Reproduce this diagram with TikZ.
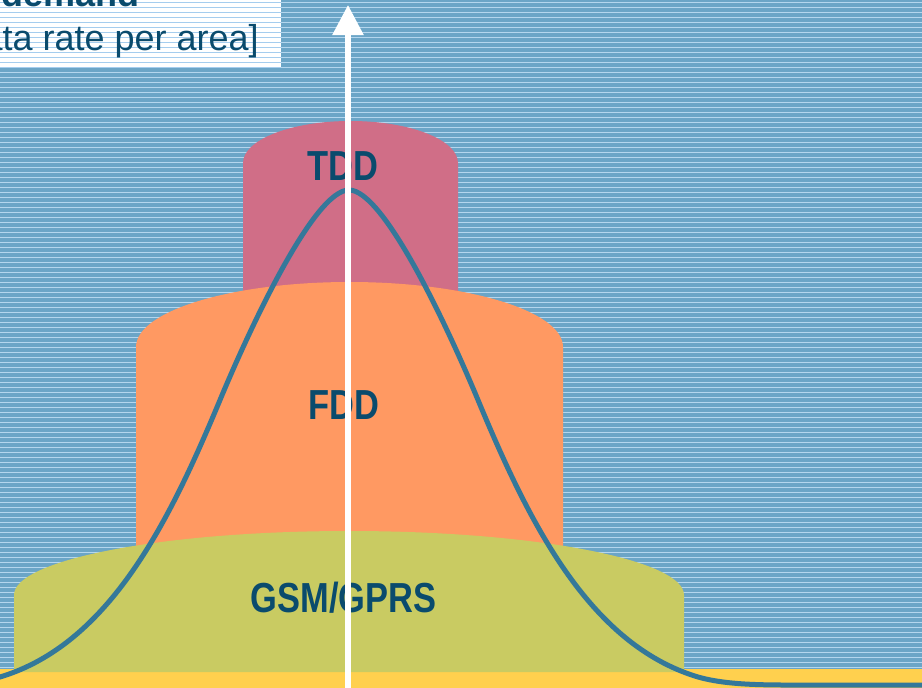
\documentclass[tikz,border=0pt]{standalone}
\usepackage{fontspec}
\setmainfont{Liberation Sans}
\newfontfamily\condbf[FakeStretch=0.82]{Liberation Sans Bold}
\usetikzlibrary{arrows.meta}

\definecolor{skyblue}{HTML}{6BA5C7}
\definecolor{stripe}{HTML}{B4D6EE}
\definecolor{panelstripe}{HTML}{A5CDEE}
\definecolor{sand}{HTML}{FFD04E}
\definecolor{tddcol}{HTML}{D06E87}
\definecolor{fddcol}{HTML}{FF9962}
\definecolor{gsmcol}{HTML}{C9CB62}
\definecolor{curvecol}{HTML}{34789A}
\definecolor{ink}{HTML}{0A4B6D}

\tikzset{
  tierlabel/.style={inner sep=0pt, anchor=base, text=ink,
    font=\condbf\fontsize{42pt}{44pt}\selectfont},
  labeltext/.style={inner sep=0pt, anchor=base east, text=ink,
    font=\fontsize{36pt}{40pt}\selectfont},
  demandcurve/.style={draw=curvecol, line width=5pt, line join=round},
  axisline/.style={draw=white, line width=5.5pt,
    -{Triangle[length=30pt,width=30pt]}},
}

\begin{document}
\begin{tikzpicture}[x=1pt,y=-1pt]
\useasboundingbox (0,0) rectangle (922,688);
\clip (0,0) rectangle (922,688);

% striped sky and ground strip
\fill[skyblue] (0,0) rectangle (922,670);
\foreach \k in {0,...,133}
  \fill[stripe] (0,{5*\k+1.8}) rectangle (922,{5*\k+3});
\fill[sand] (0,669) rectangle (922,688);

% axis label panel
\fill[white] (0,0) rectangle (281,68);
\foreach \k in {0,...,13}
  \fill[panelstripe] (0,{5*\k+1.8}) rectangle (281,{5*\k+3});
\node[labeltext, font=\bfseries\fontsize{36pt}{40pt}\selectfont] (dem) at (140,6) {demand};
\node[labeltext] (unit) at (259,50) {[data rate per area]};

% stacked tiers
\fill[tddcol] (243,300) -- (243,163)
  arc[start angle=180, end angle=0, x radius=107.5pt, y radius=42pt]
  -- (458,300) -- cycle;
\fill[fddcol] (136,600) -- (136,347)
  arc[start angle=180, end angle=0, x radius=213.5pt, y radius=65pt]
  -- (563,600) -- cycle;
\fill[gsmcol] (14,672) -- (14,595)
  arc[start angle=180, end angle=0, x radius=335pt, y radius=64pt]
  -- (684,672) -- cycle;

\node[tierlabel] (tdd) at (343,180) {TDD};
\node[tierlabel] (fdd) at (344,419) {FDD};
\node[tierlabel] (gsm) at (343.5,612) {GSM/GPRS};

% demand distribution: bell curve with a long flat tail to the right
\draw[demandcurve] (-12,681) -- (0,677)
  .. controls (110,644) and (170,520) .. (220,400)
  .. controls (250,328) and (314,190) .. (349,190)
  .. controls (384,190) and (448,328) .. (478,400)
  .. controls (528,520) and (588,644) .. (698,677)
  .. controls (730,686) and (770,685) .. (820,685)
  -- (930,685);

% vertical axis
\coordinate (axisfoot) at (348,692);
\coordinate (axistip) at (348,5);
\draw[axisline] (axisfoot) -- (axistip);
\end{tikzpicture}
\end{document}
